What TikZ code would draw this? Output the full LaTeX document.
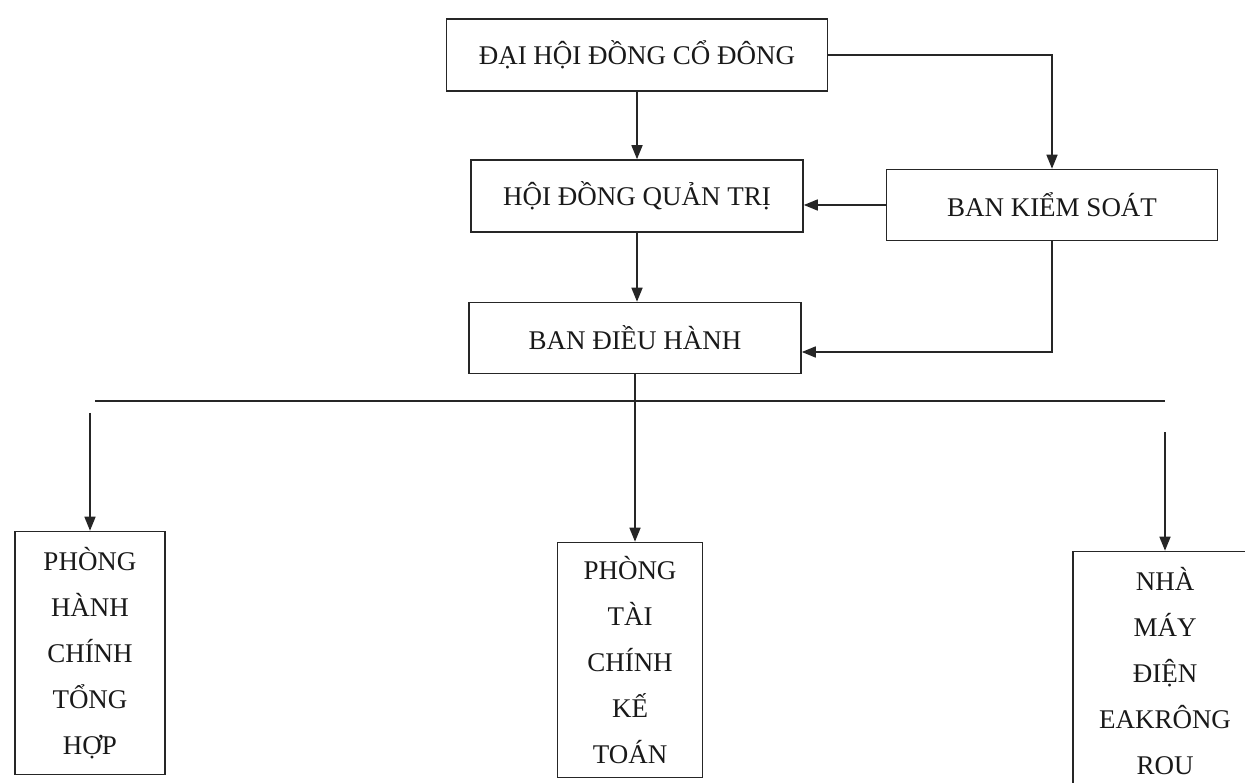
\documentclass[tikz,border=0pt]{standalone}
\usepackage{fontspec}
\setmainfont{Liberation Serif}
\usetikzlibrary{arrows.meta}

\begin{document}
\begin{tikzpicture}[x=1pt, y=-1pt,
    khung/.style={draw=black!85, line width=1.6pt, inner sep=0pt, text=black!90,
        font=\fontsize{27}{46}\selectfont, align=center},
    mui/.style={draw=black!85, line width=1.6pt, -{Triangle[length=14pt,width=11pt]}},
    duong/.style={draw=black!85, line width=1.6pt}]
    % Khung trang
    \useasboundingbox (0,0) rectangle (1245,783);
    \clip (0,0) rectangle (1245,783);
    \fill[white] (0,0) rectangle (1245,783);

    % Các cấp lãnh đạo
    \node[khung, minimum width=381pt, minimum height=72pt] (dhd) at (637,55) {ĐẠI HỘI ĐỒNG CỔ ĐÔNG};
    \node[khung, minimum width=332pt, minimum height=72pt] (hdqt) at (637,196) {HỘI ĐỒNG QUẢN TRỊ};
    \node[khung, minimum width=331pt, minimum height=71pt] (bks) at (1052,205) {BAN KIỂM SOÁT};
    \node[khung, minimum width=332pt, minimum height=71pt] (bdh) at (635,338) {BAN ĐIỀU HÀNH};

    % Các phòng ban bên dưới
    \node[khung, minimum width=150pt, minimum height=243pt] (phc) at (90,653) {PHÒNG\\HÀNH\\CHÍNH\\TỔNG\\HỢP};
    \node[khung, minimum width=145pt, minimum height=235pt] (ptc) at (630,660) {PHÒNG\\TÀI\\CHÍNH\\KẾ\\TOÁN};
    \node[khung, minimum width=184pt, minimum height=239pt] (nm) at (1165,671) {NHÀ\\MÁY\\ĐIỆN\\EAKRÔNG\\ROU};

    % Mũi tên giữa các cấp
    \draw[mui] (dhd.south) -- (hdqt.north);
    \draw[mui] (dhd.east) -| (bks.north);
    \draw[mui] (bks.west) -- (bks.west -| hdqt.east);
    \draw[mui] (hdqt.south) -- (hdqt.south |- bdh.north);
    \draw[mui] (bks.south) |- ([yshift=-14pt]bdh.east);
    \draw[mui] (bdh.south) -- (bdh.south |- ptc.north);

    % Đường ngang và nhánh xuống
    \coordinate (busL) at (95,401);
    \coordinate (busR) at (1165,401);
    \draw[duong] (busL) -- (busR);
    \coordinate (tuL) at (90,413);
    \coordinate (tuR) at (1165,432);
    \draw[mui] (tuL) -- (phc.north);
    \draw[mui] (tuR) -- (nm.north);
\end{tikzpicture}
\end{document}
